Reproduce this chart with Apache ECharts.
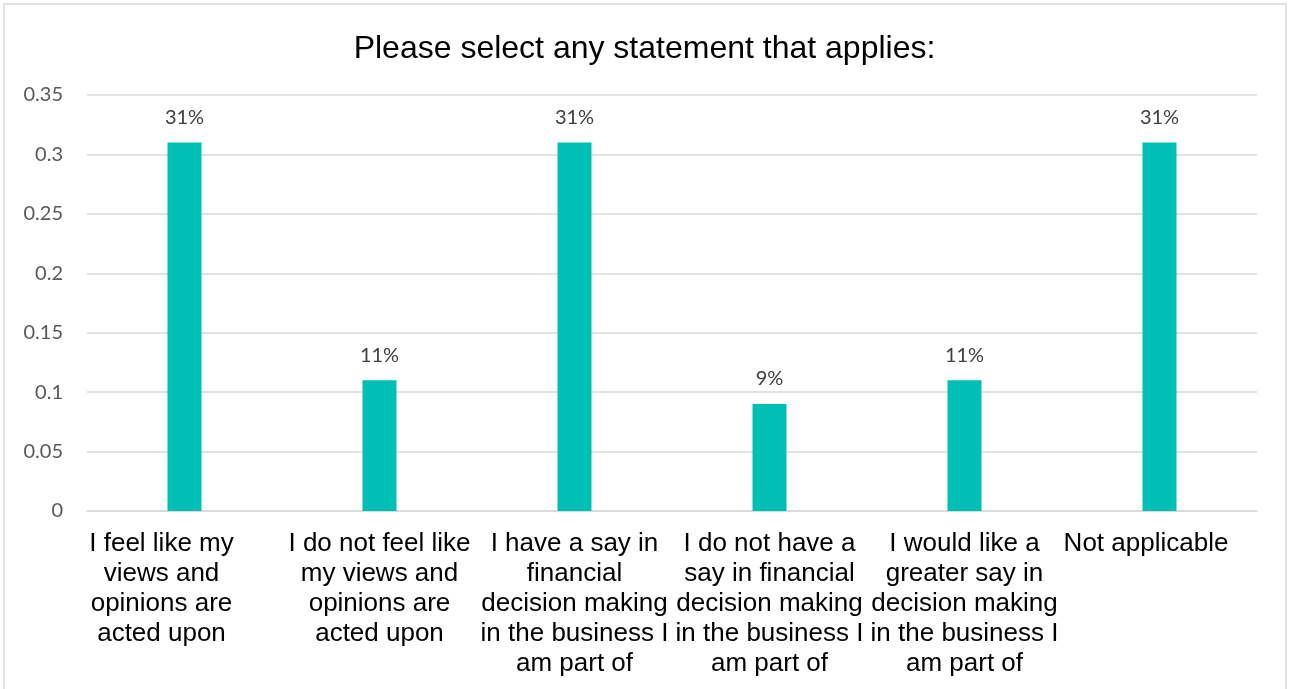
<!DOCTYPE html>
<html>
<head>
<meta charset="utf-8">
<title>Please select any statement that applies:</title>
<script src="https://cdn.jsdelivr.net/npm/echarts@6/dist/echarts.min.js"></script>
<style>
  html, body { margin: 0; padding: 0; background: #ffffff; }
  #chart { width: 1289px; height: 689px; }
</style>
</head>
<body>
<div id="chart"></div>
<script>
// Survey answers: share of respondents selecting each statement
const titleText = 'Please select any statement that applies:';

const categories = [
  'I feel like my\nviews and\nopinions are\nacted upon',
  'I do not feel like\nmy views and\nopinions are\nacted upon',
  'I have a say in\nfinancial\ndecision making\nin the business I\nam part of',
  'I do not have a\nsay in financial\ndecision making\nin the business I\nam part of',
  'I would like a\ngreater say in\ndecision making\nin the business I\nam part of',
  'Not applicable'
];

const shares = [0.31, 0.11, 0.31, 0.09, 0.11, 0.31];

const yTicks = { min: 0, max: 0.35, step: 0.05 };

// Edge labels sit pulled inward toward the plot
const edgePadding = [[0, 46, 0, 0], null, null, null, null, [0, 27, 0, 0]];

const chart = echarts.init(document.getElementById('chart'), null, { renderer: 'canvas' });

const categoryItems = categories.map((c, i) =>
  edgePadding[i] ? { value: c, textStyle: { padding: edgePadding[i] } } : c
);

chart.setOption({
  animation: false,
  backgroundColor: '#ffffff',
  title: {
    text: titleText,
    left: 'center',
    top: 33,
    padding: 0,
    textStyle: {
      fontFamily: 'Liberation Sans, Arial, sans-serif',
      fontSize: 32,
      fontWeight: 'normal',
      color: '#000000'
    }
  },
  graphic: [{
    type: 'rect',
    silent: true,
    z: -10,
    shape: { x: 4, y: 4, width: 1282, height: 720 },
    style: { fill: 'none', stroke: '#d9d9d9', lineWidth: 1.5 }
  }],
  grid: { left: 87, right: 32, top: 95, bottom: 178, containLabel: false },
  xAxis: {
    type: 'category',
    data: categoryItems,
    axisLine: { show: true, lineStyle: { color: '#d9d9d9', width: 1.5 } },
    axisTick: { show: false },
    axisLabel: {
      interval: 0,
      margin: 18,
      fontFamily: 'Liberation Sans, Arial, sans-serif',
      fontSize: 26,
      lineHeight: 30,
      color: '#000000',
      align: 'center'
    }
  },
  yAxis: {
    type: 'value',
    min: yTicks.min,
    max: yTicks.max,
    interval: yTicks.step,
    axisLine: { show: false },
    axisTick: { show: false },
    splitLine: { show: true, lineStyle: { color: '#d9d9d9', width: 1.5 } },
    axisLabel: {
      margin: 24,
      fontFamily: 'Lato, Open Sans, sans-serif',
      fontSize: 20,
      color: '#595959'
    }
  },
  series: [{
    type: 'bar',
    data: shares,
    barWidth: 34,
    itemStyle: { color: '#00BFB4' },
    label: {
      show: true,
      position: 'top',
      distance: 15,
      fontFamily: 'Lato, Open Sans, sans-serif',
      fontSize: 20,
      color: '#404040',
      formatter: p => Math.round(p.value * 100) + '%'
    }
  }]
});
</script>
</body>
</html>
